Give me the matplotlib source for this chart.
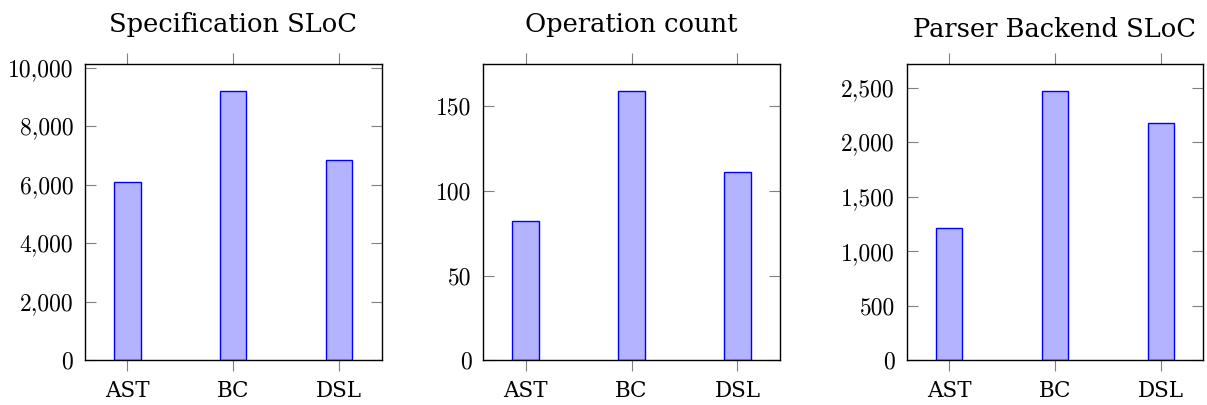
import matplotlib
matplotlib.use("Agg")
import matplotlib.pyplot as plt
from matplotlib.ticker import FixedLocator

categories = ["AST", "BC", "DSL"]
spec_sloc = [6090, 9200, 6830]
op_count = [82, 159, 111]
parser_sloc = [1215, 2470, 2175]

titles = ["Specification SLoC", "Operation count", "Parser Backend SLoC"]
series = [spec_sloc, op_count, parser_sloc]
yticks = [[0, 2000, 4000, 6000, 8000, 10000],
          [0, 50, 100, 150],
          [0, 500, 1000, 1500, 2000, 2500]]

W, H = 1207, 405
fig = plt.figure(figsize=(W / 100, H / 100), dpi=100)

lefts = [85, 483.3, 906.7]
width_px = 296.5
top_px, bottom_px = 64, 360.3
title_base = [31.7, 31.7, 36.7]

TITLE_FONT = "DejaVu Serif"
fill = "#b3b3ff"
edge = "#0000ff"
tickgray = "#808080"

for i in range(3):
    ax = fig.add_axes([lefts[i] / W, (H - bottom_px) / H, width_px / W,
                       (bottom_px - top_px) / H])
    x = list(range(len(categories)))
    ax.bar(x, series[i], width=0.25, color=fill, edgecolor=edge, linewidth=1.0, zorder=2)
    ax.set_xlim(-0.4, 2.4)
    ax.set_ylim(0, max(series[i]) * 1.1)
    ax.set_xticks(x)
    ax.set_xticklabels(categories, fontfamily=TITLE_FONT, fontsize=15.5)
    ax.yaxis.set_major_locator(FixedLocator(yticks[i]))
    ax.set_yticklabels([f"{v:,}" for v in yticks[i]], fontfamily="cmr10", fontsize=17)
    ax.tick_params(axis="x", direction="out", length=8, width=0.8, color=tickgray,
                   top=True, bottom=True, labeltop=False, pad=6)
    ax.tick_params(axis="y", direction="in", length=8, width=0.8, color=tickgray,
                   left=True, right=True, labelright=False, pad=8.5)
    for sp in ax.spines.values():
        sp.set_linewidth(1.0)
        sp.set_color("black")
    ax.text(0.5, 1 + (top_px - title_base[i]) / (bottom_px - top_px), titles[i],
            transform=ax.transAxes, ha="center", va="baseline",
            fontfamily=TITLE_FONT, fontsize=18.5)

fig.savefig("out.png", dpi=100)
